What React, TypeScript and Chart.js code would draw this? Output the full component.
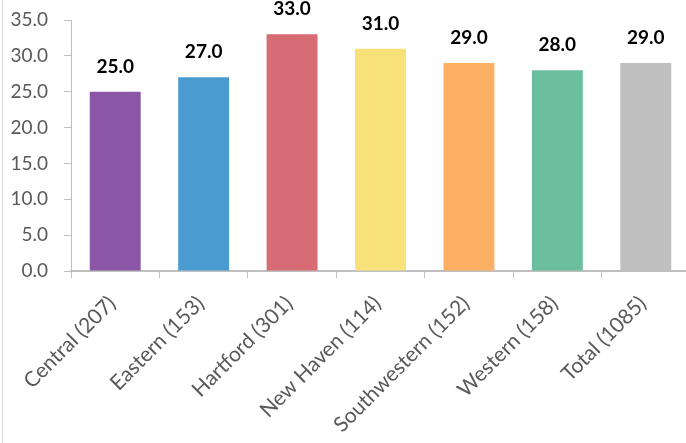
import React, { useEffect, useRef } from "react";
import { Chart, registerables } from "chart.js";

Chart.register(...registerables);

const categories = [
  "Central (207)",
  "Eastern (153)",
  "Hartford (301)",
  "New Haven (114)",
  "Southwestern (152)",
  "Western (158)",
  "Total (1085)",
];
const values = [25.0, 27.0, 33.0, 31.0, 29.0, 28.0, 29.0];
const barColors = ["#8c56a7", "#4a9bcf", "#d86c75", "#f9e17a", "#fdb064", "#6bbf9e", "#bfbfbf"];
const yMin = 0;
const yMax = 35;
const yStep = 5;

const FONT = "Lato, 'Open Sans', sans-serif";

const dataLabelPlugin = {
  id: "dataLabels",
  afterDatasetsDraw(chart: any) {
    const ctx = chart.ctx;
    const meta = chart.getDatasetMeta(0);
    ctx.save();
    ctx.font = `bold 19px ${FONT}`;
    ctx.fillStyle = "#000000";
    ctx.textAlign = "center";
    ctx.textBaseline = "alphabetic";
    meta.data.forEach((bar: any, i: number) => {
      ctx.fillText(values[i].toFixed(1), bar.x, bar.y - 19);
    });
    ctx.restore();
  },
};

export default function App() {
  const ref = useRef<HTMLCanvasElement>(null);
  useEffect(() => {
    if (!ref.current) return;
    const chart = new Chart(ref.current, {
      type: "bar",
      data: {
        labels: categories,
        datasets: [
          {
            data: values,
            backgroundColor: barColors,
            borderWidth: 0,
            categoryPercentage: 1,
            barPercentage: 0.576,
          },
        ],
      },
      options: {
        animation: false,
        responsive: false,
        layout: { padding: { left: 0, top: 20, right: 2, bottom: 0 } },
        plugins: { legend: { display: false }, tooltip: { enabled: false } },
        scales: {
          x: {
            offset: true,
            grid: {
              display: true,
              drawOnChartArea: false,
              drawTicks: true,
              tickLength: 7,
              color: "#bfbfbf",
              lineWidth: 1,
              offset: true,
            },
            border: { display: true, color: "#bfbfbf", width: 2 },
            ticks: {
              minRotation: 45,
              maxRotation: 45,
              autoSkip: false,
              padding: 13,
              labelOffset: -3,
              color: "#595959",
              font: { family: FONT, size: 21 },
            },
            afterFit(scale: any) {
              scale.height = 172;
              scale.paddingLeft = 0;
              scale.paddingRight = 0;
              scale.paddingTop = 0;
              scale.paddingBottom = 0;
            },
          },
          y: {
            min: yMin,
            max: yMax,
            grid: {
              display: true,
              drawOnChartArea: false,
              drawTicks: true,
              tickLength: 7,
              color: "#bfbfbf",
              lineWidth: 1,
            },
            border: { display: true, color: "#bfbfbf", width: 1 },
            ticks: {
              stepSize: yStep,
              padding: 16,
              color: "#595959",
              font: { family: FONT, size: 19 },
              callback: (v: any) => Number(v).toFixed(1),
            },
            afterFit(scale: any) {
              scale.width = 71;
              scale.paddingTop = 0;
              scale.paddingBottom = 0;
              scale.paddingLeft = 0;
              scale.paddingRight = 0;
            },
          },
        },
      },
      plugins: [dataLabelPlugin],
    });
    return () => chart.destroy();
  }, []);
  return (
    <div
      style={{
        position: "fixed",
        left: 0,
        top: 0,
        width: 686,
        height: 443,
        overflow: "hidden",
        background: "#ffffff",
      }}
    >
      <canvas ref={ref} width={692} height={443} style={{ display: "block" }} />
      <div
        style={{
          position: "absolute",
          left: 2,
          top: 0,
          width: 1,
          height: 443,
          background: "#d9d9d9",
        }}
      />
    </div>
  );
}
